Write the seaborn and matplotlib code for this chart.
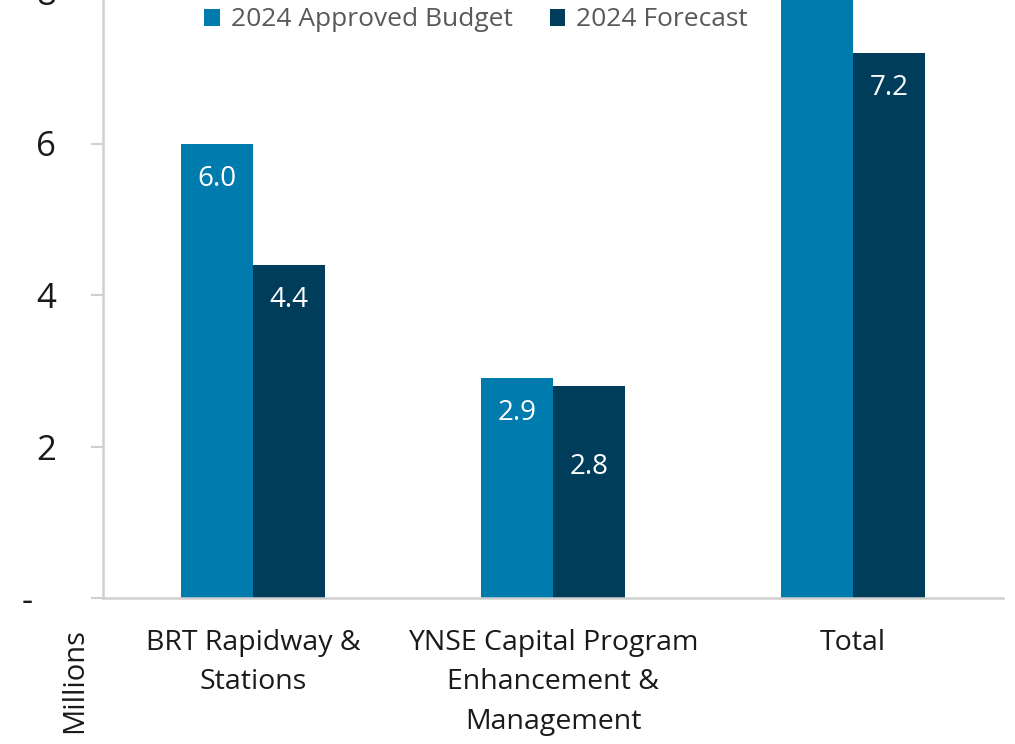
import matplotlib
matplotlib.use("Agg")
import matplotlib.pyplot as plt
import matplotlib.transforms as mtransforms
from matplotlib.patches import Patch
import seaborn as sns
import pandas as pd

categories = ["BRT Rapidway &\nStations", "YNSE Capital Program\nEnhancement &\nManagement", "Total"]
series_names = ["2024 Approved Budget", "2024 Forecast"]
approved = [6.0, 2.9, 8.9]
forecast = [4.4, 2.8, 7.2]
ytick_values = [0, 2, 4, 6, 8, 10]
ytick_labels = ["-", "2", "4", "6", "8", "10"]
colors = {"2024 Approved Budget": "#007BAD", "2024 Forecast": "#003D5A"}

df = pd.DataFrame({
    "category": categories * 2,
    "series": [series_names[0]] * 3 + [series_names[1]] * 3,
    "value": approved + forecast,
})

sns.set_theme(style="white")
plt.rcParams["font.family"] = ["Open Sans", "DejaVu Sans"]

fig = plt.figure(figsize=(10.15, 7.44), dpi=100)
fig.patch.set_facecolor("white")
ax = fig.add_axes([103 / 1015, 146 / 744, 900 / 1015, 757.5 / 744])

sns.barplot(data=df, x="category", y="value", hue="series", palette=colors,
            order=categories, hue_order=series_names, width=0.48, gap=0,
            saturation=1, legend=False, ax=ax, errorbar=None, linewidth=0)

ax.set_xlim(-0.5, 2.5)
ax.set_ylim(0, 10)
ax.set_xlabel("")
ax.set_ylabel("")
ax.set_yticks(ytick_values)
ax.set_yticklabels(ytick_labels)
ax.tick_params(axis="y", length=8.6, width=1.5, color="#D0D0D0", pad=25,
               labelsize=25, labelcolor="#1A1A1A", direction="out", left=True)
ax.tick_params(axis="x", length=0, pad=22, labelsize=20.5, labelcolor="#1A1A1A")
for lab in ax.get_xticklabels():
    lab.set_linespacing(1.55)
for s in ["top", "right"]:
    ax.spines[s].set_visible(False)
for s in ["left", "bottom"]:
    ax.spines[s].set_color("#D0D0D0")
    ax.spines[s].set_linewidth(1.8)

# shift the "-" zero label left (accounting-style alignment)
zero_lab = ax.yaxis.get_major_ticks()[0].label1
zero_lab.set_transform(zero_lab.get_transform() +
                       mtransforms.ScaledTranslation(-0.24, 0, fig.dpi_scale_trans))

# value labels inside bar tops
px_per_unit = 757.5 / 10
pt_per_px = 0.72
cont_vals = [approved, forecast]
for ci, cont in enumerate(ax.containers):
    for bi, bar in enumerate(cont):
        val = cont_vals[ci][bi]
        offset_px = 35
        if ci == 1:
            other = cont_vals[0][bi]
            if abs(other - val) * px_per_unit < 30:
                offset_px = 81
        x = bar.get_x() + bar.get_width() / 2
        ax.annotate(f"{val:.1f}", xy=(x, val), xytext=(0, -offset_px * pt_per_px),
                    textcoords="offset points", ha="center", va="center",
                    color="white", fontsize=20, clip_on=False)

handles = [Patch(facecolor=colors[n], edgecolor="none") for n in series_names]
fig.legend(handles, series_names, loc="center", bbox_to_anchor=(476 / 1015, 1 - 20 / 744),
           ncol=2, frameon=False, fontsize=19, labelcolor="#595959",
           handlelength=0.6, handleheight=0.6, handletextpad=0.4, columnspacing=1.4)

fig.text(75 / 1015, 1 - 681 / 744, "Millions", rotation=90, ha="center", va="center",
         fontsize=21, color="#1A1A1A")

fig.savefig("out.png", dpi=100, facecolor="white")
